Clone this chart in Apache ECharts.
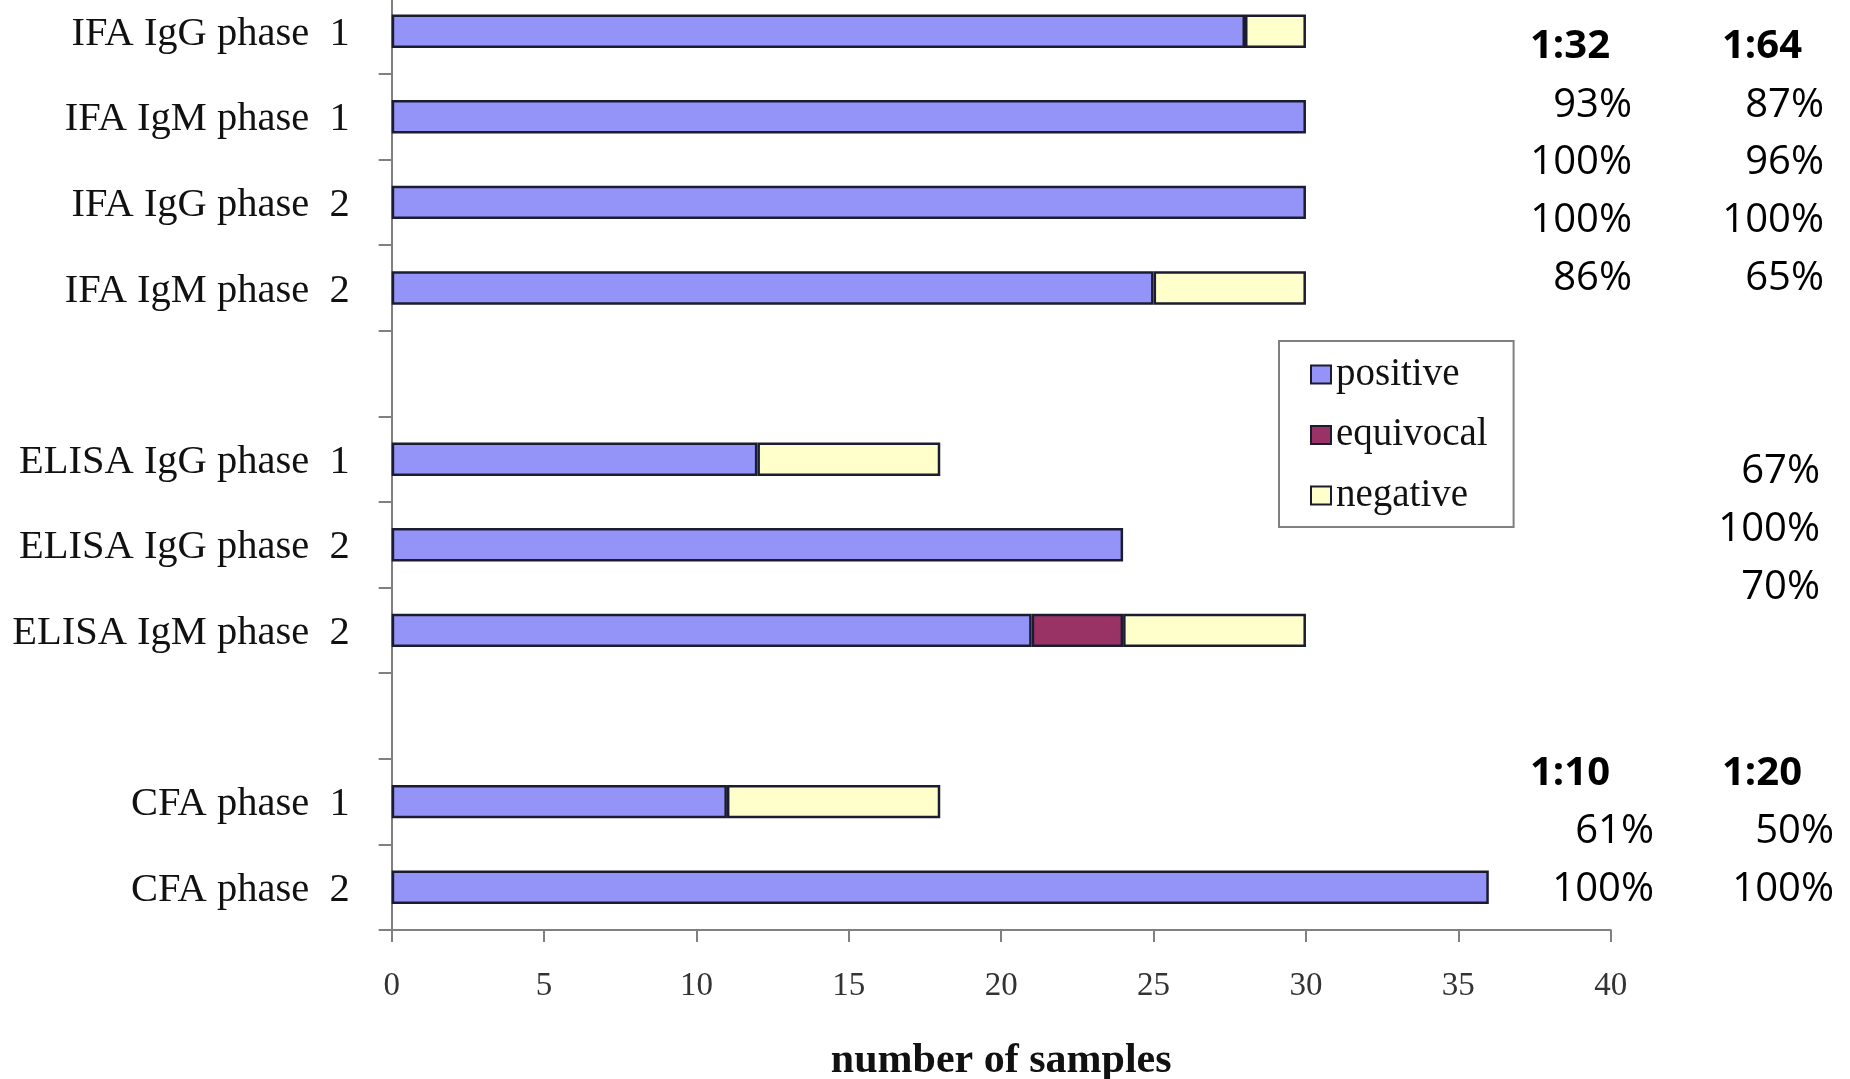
<!DOCTYPE html>
<html>
<head>
<meta charset="utf-8">
<script src="https://cdn.jsdelivr.net/npm/echarts@6/dist/echarts.min.js"></script>
<style>
html,body{margin:0;padding:0;background:#fff;}
#chart{width:1850px;height:1079px;}
</style>
</head>
<body>
<div id="chart"></div>
<script>
// ---- data ----
const categories = ['IFA IgG phase  1','IFA IgM phase  1','IFA IgG phase  2','IFA IgM phase  2',' ',
  'ELISA IgG phase  1','ELISA IgG phase  2','ELISA IgM phase  2','  ','CFA phase  1','CFA phase  2'];
const positive  = [28, 30, 30, 25, '-', 12, 24, 21, '-', 11, 36];
const equivocal = ['-','-','-','-','-','-','-', 3, '-','-','-'];
const negative  = [2, '-', '-', 5, '-', 6, '-', 6, '-', 7, '-'];
const xTicks = [0,5,10,15,20,25,30,35,40];

const ifaHeader = ['1:32','1:64'];
const ifaCol1 = ['93%','100%','100%','86%'];
const ifaCol2 = ['87%','96%','100%','65%'];
const elisaCol = ['67%','100%','70%'];
const cfaHeader = ['1:10','1:20'];
const cfaCol1 = ['61%','100%'];
const cfaCol2 = ['50%','100%'];

// ---- chart ----
const chart = echarts.init(document.getElementById('chart'));
const serif = 'Liberation Serif, Times New Roman, serif';
const sans = 'Open Sans, sans-serif';
const border = '#1c1c30';

function txt(x, y, s, align, bold) {
  return {type:'text', x:x, y:y, style:{text:s, fill:'#000', font:(bold?'bold ':'')+'40px '+sans,
    textAlign:align, textVerticalAlign:'middle', verticalAlign:'middle'}};
}
const graphics = [];
const rowStep = 57.7;
graphics.push(txt(1530, 46.5, ifaHeader[0], 'left', true));
graphics.push(txt(1722, 46.5, ifaHeader[1], 'left', true));
ifaCol1.forEach((s,i)=>graphics.push(txt(1632, 105.2 + i*rowStep, s, 'right')));
ifaCol2.forEach((s,i)=>graphics.push(txt(1824, 105.2 + i*rowStep, s, 'right')));
elisaCol.forEach((s,i)=>graphics.push(txt(1820, 472 + i*rowStep, s, 'right')));
graphics.push(txt(1530, 773.5, cfaHeader[0], 'left', true));
graphics.push(txt(1722, 773.5, cfaHeader[1], 'left', true));
cfaCol1.forEach((s,i)=>graphics.push(txt(1654, 832 + i*rowStep, s, 'right')));
cfaCol2.forEach((s,i)=>graphics.push(txt(1834, 832 + i*rowStep, s, 'right')));

function barSeries(name, data, color) {
  return {
    name:name, type:'bar', stack:'total', data:data, barWidth:'39%',
    itemStyle:{color:color, borderColor:border, borderWidth:2.5},
    emphasis:{disabled:true}
  };
}

chart.setOption({
  animation:false,
  backgroundColor:'#fff',
  grid:{left:391.7, right:239.3, top:-11.6, bottom:149, containLabel:false, outerBoundsMode:'none'},
  legend:{
    orient:'vertical', left:1279, top:341,
    padding:[14, 26, 12, 31],
    itemWidth:20, itemHeight:18, itemGap:21.5,
    borderColor:'#808080', borderWidth:2,
    icon:'rect',
    textStyle:{fontFamily:serif, fontSize:39, color:'#111', lineHeight:38},
    data:['positive','equivocal','negative']
  },
  xAxis:{
    type:'value', min:0, max:40, interval:5,
    name:'number of samples', nameLocation:'middle', nameGap:110,
    nameTextStyle:{fontFamily:serif, fontSize:42, fontWeight:'bold', color:'#111'},
    axisLine:{show:true, lineStyle:{color:'#808080', width:2}},
    axisTick:{show:true, length:12, lineStyle:{color:'#808080', width:2}},
    axisLabel:{fontFamily:serif, fontSize:33, color:'#333', margin:40,
      formatter:(v)=> xTicks.indexOf(v) >= 0 ? String(v) : ''},
    splitLine:{show:false}
  },
  yAxis:{
    type:'category', data:categories, inverse:true,
    axisLine:{show:true, lineStyle:{color:'#808080', width:2}},
    axisTick:{show:true, length:13, lineStyle:{color:'#808080', width:2}},
    axisLabel:{margin:42,
      formatter:(v)=> '{c|' + v + '}',
      rich:{c:{fontFamily:serif, fontSize:40.5, color:'#111', padding:[6,0,0,0]}}},
    splitLine:{show:false}
  },
  series:[
    barSeries('positive', positive, '#9494f8'),
    barSeries('equivocal', equivocal, '#993366'),
    barSeries('negative', negative, '#ffffcc')
  ],
  graphic:graphics
});
</script>
</body>
</html>
